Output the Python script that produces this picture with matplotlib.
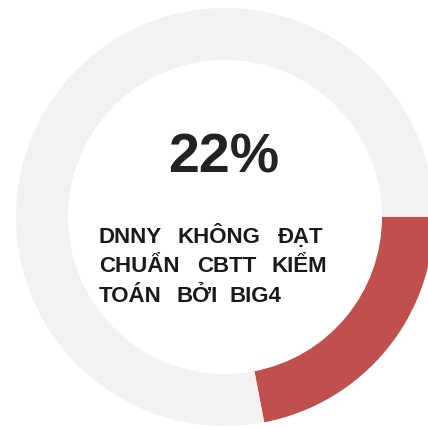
"""Donut chart: share of listed companies not meeting disclosure standard audited by Big4."""

import matplotlib
matplotlib.use("Agg")
import matplotlib.pyplot as plt

# data
shares = [22, 78]
share_colors = ["#c0504d", "#f2f2f2"]
big_label = "22%"
caption_lines = [
    ["DNNY", "KHÔNG", "ĐẠT"],
    ["CHUẨN", "CBTT", "KIỂM"],
    ["TOÁN", "BỞI", "BIG4"],
]

# layout (pixels, origin at bottom-left)
W = H = 428
cx, cy = 225, 211
r_out, ring = 209, 52
word_x = [
    [99, 178, 278],
    [99, 197, 272],
    [99, 177, 230],
]
line_y = [H - 243, H - 272, H - 302]

plt.rcParams['font.family'] = ['Liberation Sans', 'DejaVu Sans']

fig = plt.figure(figsize=(W / 100, H / 100), dpi=100)
ax = fig.add_axes([0, 0, 1, 1])

ax.pie(shares, colors=share_colors, startangle=0, counterclock=False,
       radius=r_out, center=(cx, cy),
       wedgeprops=dict(width=ring, linewidth=0))

ax.set_xlim(0, W)
ax.set_ylim(0, H)
ax.set_aspect('equal')
ax.axis('off')

ax.text(224, H - 172, big_label, ha='center', va='baseline',
        fontsize=40, fontweight='bold', color='#222222')

for words, xs, y in zip(caption_lines, word_x, line_y):
    for w, x in zip(words, xs):
        ax.text(x, y, w, ha='left', va='baseline', fontsize=16,
                fontweight='bold', color='#1a1a1a')

fig.savefig("out.png", dpi=100)
